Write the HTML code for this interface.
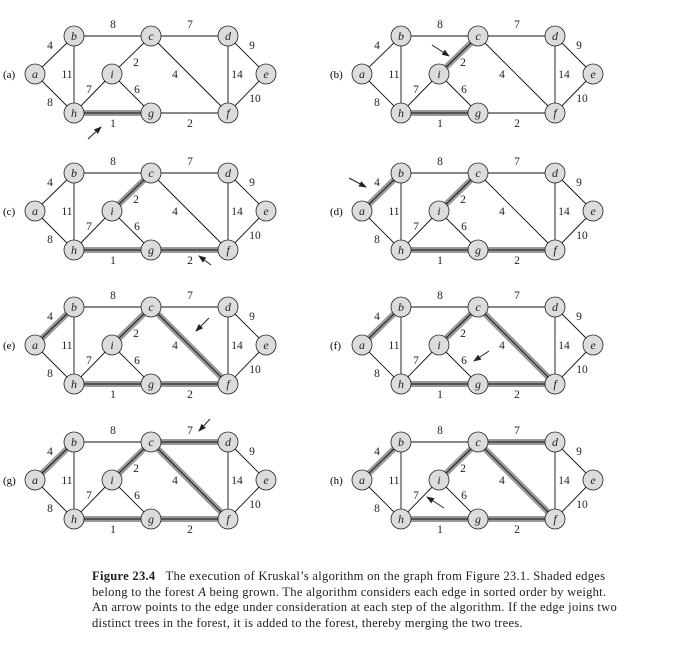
<!DOCTYPE html>
<html><head><meta charset="utf-8"><style>
body{margin:0;background:#fff;width:674px;height:656px;overflow:hidden}
svg text{font-family:"Liberation Serif",serif}
.cap{position:absolute;left:92px;top:569px;width:570px;white-space:nowrap;font-family:"Liberation Serif",serif;font-size:12.6px;letter-spacing:0.26px;line-height:15.7px;color:#222}
</style></head><body>
<svg id="fig" width="674" height="560" style="position:absolute;left:0;top:0">
<defs><marker id="ah" markerWidth="8" markerHeight="6" refX="7" refY="3" orient="auto"><path d="M0,0 L8,3 L0,6 z" fill="#222"/></marker></defs>
</svg>
<div class="cap"><b>Figure 23.4</b>&nbsp;&nbsp; The execution of Kruskal’s algorithm on the graph from Figure 23.1. Shaded edges<br>belong to the forest <i>A</i> being grown. The algorithm considers each edge in sorted order by weight.<br>An arrow points to the edge under consideration at each step of the algorithm. If the edge joins two<br>distinct trees in the forest, it is added to the forest, thereby merging the two trees.</div>
<script>
const nodes={a:[35,74],b:[74,36],c:[151,36],d:[228,36],e:[266,74],h:[74,113],i:[112,74],g:[151,113],f:[228,113]};
const edges=[["a","b",4,50,49],["a","h",8,50,106],["b","h",11,67,78],["b","c",8,113,28],["c","i",2,136,66],["c","d",7,190,28],["c","f",4,175,78],["d","f",14,237,78],["d","e",9,252,49],["e","f",10,255,102],["h","i",7,89,93],["i","g",6,137,93],["h","g",1,113,127],["g","f",2,190,127]];
const panels=[["a",0,0,["h-g"],[88,139,101,127]],["b",327,0,["h-g","c-i"],[105,45,122,56]],["c",0,137,["h-g","c-i","g-f"],[211,128,199,119]],["d",327,137,["h-g","c-i","g-f","a-b"],[22,41,39,50]],["e",0,271,["h-g","c-i","g-f","a-b","c-f"],[209,47,196,60]],["f",327,271,["h-g","c-i","g-f","a-b","c-f"],[162,80,147,90]],["g",0,406,["h-g","c-i","g-f","a-b","c-f","c-d"],[210,13,199,25]],["h",327,406,["h-g","c-i","g-f","a-b","c-f","c-d"],[117,102,100,91]]];
const svg=document.getElementById('fig');const NS='http://www.w3.org/2000/svg';
function mk(t,a,p){const e=document.createElementNS(NS,t);for(const k in a)e.setAttribute(k,a[k]);p.appendChild(e);return e;}
panels.forEach(p=>{
 const g=mk('g',{transform:`translate(${p[1]},${p[2]})`},svg);
 
 
 const lb=mk('text',{x:3,y:78,'font-size':11},g);lb.textContent='('+p[0]+')';
 
 
 edges.forEach(e=>{
  const A=nodes[e[0]],B=nodes[e[1]];const sh=p[3].includes(e[0]+'-'+e[1]);
  if(sh){const s=mk('line',{x1:A[0],y1:A[1],x2:B[0],y2:B[1],stroke:'#999','stroke-width':6},g);
   
   }
  const l=mk('line',{x1:A[0],y1:A[1],x2:B[0],y2:B[1],stroke:'#111','stroke-width':0.9},g);
  
  
  const t=mk('text',{x:e[3],y:e[4],'font-size':11.5,'text-anchor':'middle',fill:'#222'},g);t.textContent=e[2];
  
  
 });
 for(const n in nodes){const c=nodes[n];
  const ci=mk('circle',{cx:c[0],cy:c[1],r:10,fill:'#dcdcdc',stroke:'#222','stroke-width':0.8},g);
  
  
  const t=mk('text',{x:c[0],y:c[1]+4,'font-size':12,'font-style':'italic','text-anchor':'middle',fill:'#222'},g);t.textContent=n;
  
  }
 const ar=p[4];const a=mk('line',{x1:ar[0],y1:ar[1],x2:ar[2],y2:ar[3],stroke:'#222','stroke-width':1,'marker-end':'url(#ah)'},g);
 
 
});
</script>
</body></html>
